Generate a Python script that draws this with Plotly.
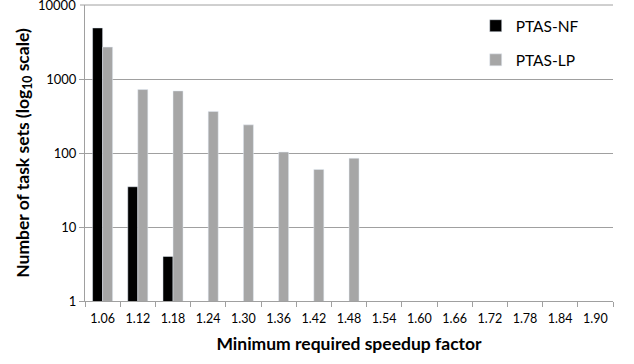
import plotly.graph_objects as go

categories = ["1.06", "1.12", "1.18", "1.24", "1.30", "1.36", "1.42", "1.48",
              "1.54", "1.60", "1.66", "1.72", "1.78", "1.84", "1.90"]
ptas_nf = [4900, 35, 4, None, None, None, None, None, None, None, None, None, None, None, None]
ptas_lp = [2700, 720, 690, 365, 240, 103, 60, 85, None, None, None, None, None, None, None]
y_ticks = [1, 10, 100, 1000, 10000]

font_family = "Lato, Open Sans, sans-serif"

fig = go.Figure()
fig.add_trace(go.Bar(x=categories, y=ptas_nf, name="PTAS-NF", marker_color="#000000",
                     legendgroup="nf"))
fig.add_trace(go.Bar(x=categories, y=ptas_lp, name="PTAS-LP", marker_color="#a6a6a6",
                     legendgroup="lp"))

plot_w = 634 - 85 - 21

fig.update_layout(
    width=634, height=364,
    margin=dict(l=85, r=21, t=5, b=63),
    paper_bgcolor="white", plot_bgcolor="white",
    barmode="group", bargap=0.43, bargroupgap=0,
    font=dict(family=font_family, color="#000000"),
    legend=dict(x=0.74, y=0.986, xanchor="left", yanchor="top",
                font=dict(size=15.5, family=font_family),
                tracegroupgap=11, traceorder="grouped", itemwidth=30,
                bgcolor="rgba(0,0,0,0)"),
    xaxis=dict(
        type="category", categoryorder="array", categoryarray=categories,
        showline=True, linecolor="#a0a0a0", linewidth=1,
        ticks="outside", tickson="boundaries", ticklen=5, tickcolor="#a0a0a0",
        tickfont=dict(size=12.5), tickangle=0, ticklabelstandoff=6,
        title=dict(text="<b>Minimum required speedup factor</b>", font=dict(size=17.5), standoff=12),
        showgrid=False, automargin=False,
    ),
    yaxis=dict(
        type="log", range=[0, 4],
        tickmode="array",
        tickvals=y_ticks[:-1], ticktext=[str(v) for v in y_ticks[:-1]],
        showline=True, linecolor="#a0a0a0", linewidth=1,
        ticks="outside", ticklen=5, tickcolor="#a0a0a0",
        showgrid=True, gridcolor="#a0a0a0", gridwidth=1,
        tickfont=dict(size=13),
        title=dict(text="<b>Number of task sets (log<sub>10</sub> scale)</b>", font=dict(size=17.5), standoff=12),
        zeroline=False, automargin=False,
    ),
)
# top gridline, tick and label for the highest decade
fig.add_shape(type="line", xref="paper", yref="paper", x0=-5 / plot_w, x1=1, y0=1, y1=1,
              line=dict(color="#a0a0a0", width=1))
fig.add_annotation(xref="paper", yref="y", x=0, y=4, text=str(y_ticks[-1]), showarrow=False,
                   xanchor="right", xshift=-7, font=dict(size=13, family=font_family))

fig.write_html("out.html", config={"displayModeBar": False},
               post_script="document.body.style.margin='0';document.body.style.overflow='hidden';")
